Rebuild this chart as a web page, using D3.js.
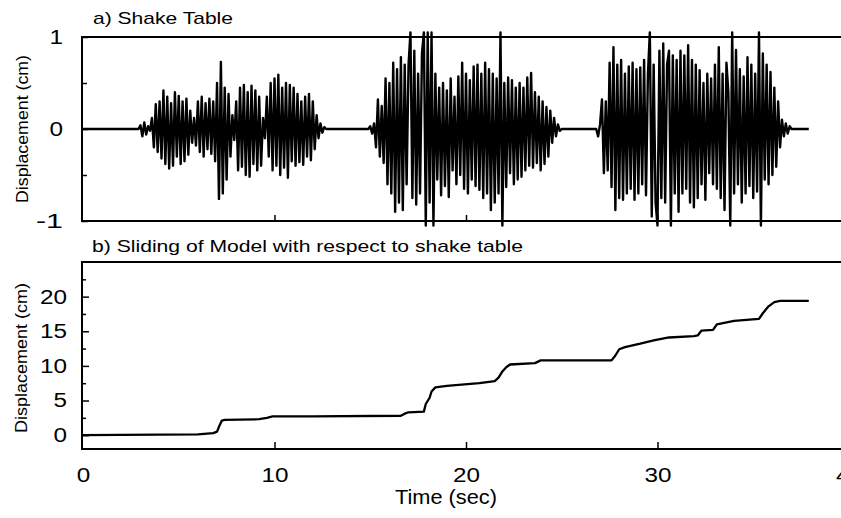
<!DOCTYPE html>
<html>
<head>
<meta charset="utf-8">
<script src="https://cdn.jsdelivr.net/npm/d3@7"></script>
<style>
  body { margin: 0; background: #fff; }
  text { font-family: "Liberation Sans", Arial, sans-serif; fill: #000; }
</style>
</head>
<body>
<svg id="chart" width="841" height="518"></svg>
<script>
// shake table record, sampled every dt seconds, one array per burst
const dt = 0.1;
const burstStarts = [2.9, 14.9, 26.8];
const burst1 = [
  0,
  0.04, -0.08, 0.07, -0.06, 0.03, -0.02, 0.12, -0.2, 0.27, -0.25,
  0.3, -0.32, 0.42, -0.38, 0.35, -0.43, 0.28, -0.4, 0.4, -0.3,
  0.36, -0.38, 0.3, -0.35, 0.33, -0.28, 0.2, -0.15, 0.12, -0.18,
  0.3, -0.25, 0.35, -0.3, 0.28, -0.22, 0.33, -0.27, 0.3, -0.35,
  0.5, -0.76, 0.73, -0.7, 0.45, -0.55, 0.38, -0.3, 0.15, -0.12,
  0.3, -0.45, 0.45, -0.41, 0.48, -0.5, 0.4, -0.52, 0.47, -0.38,
  0.42, -0.45, 0.35, -0.4, 0.12, -0.1, 0.35, -0.3, 0.5, -0.45,
  0.55, -0.4, 0.59, -0.5, 0.45, -0.42, 0.5, -0.53, 0.48, -0.35,
  0.45, -0.4, 0.38, -0.36, 0.3, -0.39, 0.35, -0.3, 0.38, -0.34,
  0.3, -0.22, 0.15, -0.1, 0.06, -0.04, 0.02, 0
];
const burst2 = [
  0,
  0.03, -0.05, 0.06, -0.2, 0.32, -0.3, 0.25, -0.37, 0.55, -0.6,
  0.5, -0.7, 0.72, -0.9, 0.65, -0.8, 0.78, -0.88, 0.7, -0.6,
  0.7, 1.05, -0.75, 0.85, -0.82, 0.6, -0.7, 0.82, 1.05, -1.05,
  1.05, -0.8, 1.05, -1.05, 0.6, -0.55, 0.45, -0.72, 0.5, -0.62,
  0.42, -0.74, 0.55, -0.45, 0.35, -0.6, 0.57, -0.5, 0.72, -0.65,
  0.6, -0.7, 0.53, -0.55, 0.68, -0.62, 0.7, -0.66, 0.6, -0.75,
  0.72, -0.7, 0.65, -0.88, 0.6, -0.8, 0.55, -0.7, 1.05, -1.05,
  0.5, -0.63, 0.56, -0.48, 0.53, -0.6, 0.45, -0.55, 0.5, -0.52,
  0.45, -0.45, 0.56, -0.4, 0.61, -0.42, 0.4, -0.37, 0.35, -0.45,
  0.3, -0.38, 0.24, -0.3, 0.2, -0.15, 0.12, -0.08, 0.05, -0.02,
  0
];
const burst3 = [
  0, -0.08,
  0.05, 0.32, -0.48, 0.3, -0.45, 0.72, -0.63, 0.89, -0.88, 0.7,
  -0.75, 0.75, -0.77, 0.6, -0.7, 0.68, -0.65, 0.72, -0.77, 0.65,
  -0.7, 0.67, -0.6, 0.75, -0.72, 0.6, 1.05, -0.95, 0.7, -0.8,
  -1.05, 0.85, -0.75, 0.93, -0.8, 0.7, 0.85, -1.05, 0.8, -0.7,
  0.75, -0.9, 0.85, -0.7, 0.8, -0.65, 0.91, -0.8, 0.75, -0.85,
  0.7, -0.75, 0.64, -0.6, 0.5, -0.77, 0.6, -0.48, 0.55, -0.6,
  0.7, -0.65, 0.89, -0.75, 0.6, -0.88, 0.72, 0.4, -1.05, 1.05,
  -0.7, 0.86, -0.6, 0.65, -0.8, 0.57, -0.7, 0.78, -0.62, 0.7,
  -0.75, 0.6, -0.68, 1.05, -1.05, 0.82, -0.55, 0.7, -0.6, 0.62,
  -0.5, 0.45, -0.41, 0.3, -0.2, 0.1, -0.08, 0.06, -0.05, 0.03,
  0
];
const signalEnd = 37.9;

// sliding of the model
const slideTime = [0, 6.0, 6.8, 7.0, 7.1, 7.25, 7.4, 9.2, 9.6, 9.9, 12.0,
  16.6, 16.8, 17.0, 17.8, 17.9, 18.1, 18.2, 18.4, 19.0, 20.7,
  21.5, 21.7, 21.9, 22.1, 22.3, 23.6, 23.9, 27.6, 27.8, 28.0,
  28.3, 29.1, 29.8, 30.6, 31.9, 32.1, 32.3, 32.9, 33.1, 34.0,
  35.3, 35.5, 35.8, 36.1, 36.4, 37.9];
const slideDisp = [0, 0.1, 0.3, 0.5, 1.2, 2.1, 2.2, 2.3, 2.5, 2.7, 2.7,
  2.8, 3.1, 3.3, 3.4, 4.5, 5.4, 6.3, 6.9, 7.1, 7.5,
  7.8, 8.3, 9.2, 9.8, 10.2, 10.4, 10.8, 10.8, 11.5, 12.4,
  12.7, 13.2, 13.7, 14.1, 14.3, 14.4, 15.1, 15.2, 16.0, 16.5,
  16.8, 17.6, 18.6, 19.2, 19.4, 19.4];

const timeTicks = [0, 10, 20, 30, 40];
const tableTicks = [-1, 0, 1];
const tableMinor = [-0.5, 0.5];
const slideTicks = [0, 5, 10, 15, 20];
const slideMinor = [2.5, 7.5, 12.5, 17.5, 22.5];

const svg = d3.select("#chart");
const font = '"Liberation Sans", Arial, sans-serif';
const frameLeft = 82;

const x = d3.scaleLinear().domain([0, 40]).range([83, 849]);
const yTable = d3.scaleLinear().domain([-1, 1]).range([221, 37]);
const ySlide = d3.scaleLinear().domain([-2, 25]).range([449, 262]);

// build the table series
let tablePts = [[0, 0]];
[burst1, burst2, burst3].forEach((b, k) => {
  b.forEach((v, i) => tablePts.push([burstStarts[k] + i * dt, v]));
});
tablePts.push([signalEnd, 0]);

let slidePts = slideTime.map((t, i) => [t, slideDisp[i]]);

// frames
svg.append("rect").attr("x", frameLeft).attr("y", yTable(1))
  .attr("width", 900).attr("height", yTable(-1) - yTable(1))
  .attr("fill", "none").attr("stroke", "#000").attr("stroke-width", 2);
svg.append("rect").attr("x", frameLeft).attr("y", ySlide(25))
  .attr("width", 900).attr("height", ySlide(-2) - ySlide(25))
  .attr("fill", "none").attr("stroke", "#000").attr("stroke-width", 2);

function styleAxis(g) {
  g.select(".domain").remove();
  g.selectAll("line").attr("stroke", "#000").attr("stroke-width", 1.5);
  g.selectAll("text").attr("font-family", font).attr("font-size", 20).attr("fill", "#000")
    .attr("textLength", function () { return 13.5 * this.textContent.length; })
    .attr("lengthAdjust", "spacingAndGlyphs");
}

// y axes
svg.append("g").attr("transform", "translate(" + frameLeft + ",0)")
  .call(d3.axisLeft(yTable).tickValues(tableTicks).tickSize(-6).tickPadding(19)
    .tickFormat(d => d < 0 ? "-" + Math.abs(d) : d))
  .call(styleAxis);
svg.append("g").attr("transform", "translate(" + frameLeft + ",0)")
  .call(d3.axisLeft(yTable).tickValues(tableMinor).tickSize(-5).tickFormat(""))
  .call(styleAxis);

svg.append("g").attr("transform", "translate(" + frameLeft + ",0)")
  .call(d3.axisLeft(ySlide).tickValues(slideTicks).tickSize(-7).tickPadding(15))
  .call(styleAxis);
svg.append("g").attr("transform", "translate(" + frameLeft + ",0)")
  .call(d3.axisLeft(ySlide).tickValues(slideMinor).tickSize(-4).tickFormat(""))
  .call(styleAxis);

// x axes
svg.append("g").attr("transform", "translate(0," + yTable(-1) + ")")
  .call(d3.axisBottom(x).tickValues(timeTicks.slice(1)).tickSize(-6).tickFormat(""))
  .call(styleAxis);
svg.append("g").attr("transform", "translate(0," + ySlide(-2) + ")")
  .call(d3.axisBottom(x).tickValues(timeTicks).tickSize(-7).tickPadding(19))
  .call(styleAxis)
  .call(g => g.selectAll(".tick").filter(d => d === 0).select("line").remove());

// curves
const line = (ys) => d3.line().x(d => x(d[0])).y(d => ys(d[1]));
svg.append("path").datum(tablePts).attr("d", line(yTable))
  .attr("fill", "none").attr("stroke", "#000").attr("stroke-width", 2.4)
  .attr("stroke-linejoin", "round");
svg.append("path").datum(slidePts).attr("d", line(ySlide))
  .attr("fill", "none").attr("stroke", "#000").attr("stroke-width", 2.3)
  .attr("stroke-linejoin", "round");

// labels
function label(txt, px, py, size, len, rotate) {
  const t = svg.append("text").text(txt).attr("font-size", size)
    .attr("textLength", len).attr("lengthAdjust", "spacingAndGlyphs");
  if (rotate) {
    t.attr("text-anchor", "middle")
      .attr("transform", "translate(" + px + "," + py + ") rotate(-90)");
  } else {
    t.attr("x", px).attr("y", py);
  }
  return t;
}
label("a) Shake Table", 93, 24, 17, 140);
label("b) Sliding of Model with respect to shake table", 92, 252, 17, 431);
label("Displacement (cm)", 28, 129, 16, 148, true);
label("Displacement (cm)", 27, 358, 16, 150, true);
label("Time (sec)", 395, 504, 20, 102);
</script>
</body>
</html>
